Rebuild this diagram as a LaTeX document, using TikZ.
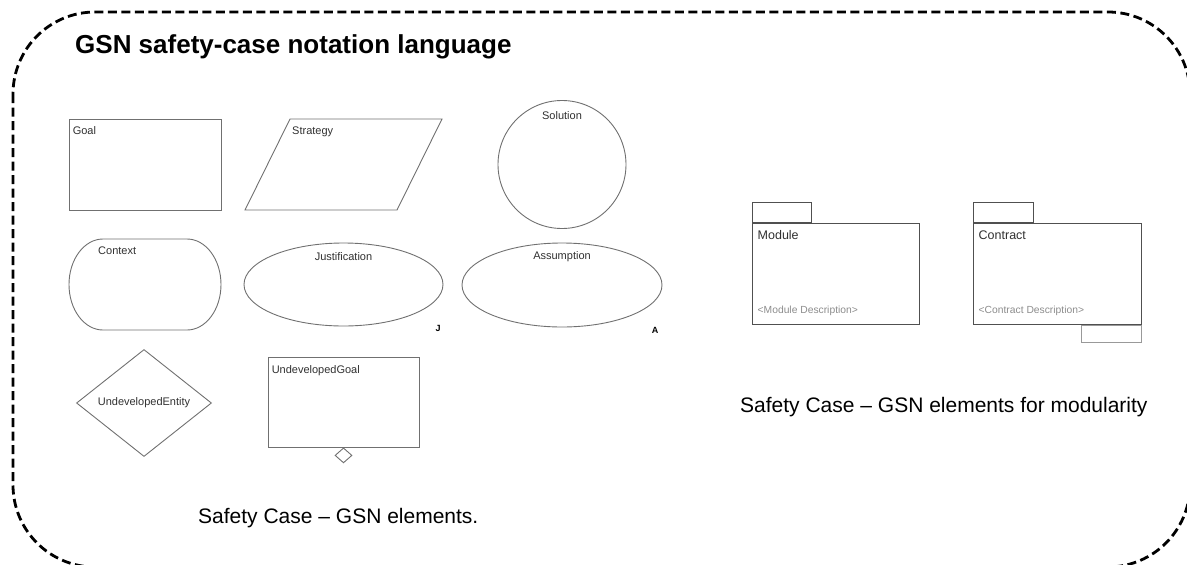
\documentclass[tikz,border=0pt]{standalone}
\usepackage{fontspec}
\setmainfont{Liberation Sans}
\usetikzlibrary{shapes.geometric,positioning}
\definecolor{edgegray}{HTML}{707070}
\definecolor{pkggray}{HTML}{505050}
\definecolor{labelgray}{HTML}{303030}
\definecolor{descgray}{HTML}{8C8C8C}

\begin{document}
\begin{tikzpicture}[x=1pt,y=-1pt,inner sep=0pt,
		font=\fontsize{11}{13}\selectfont]
	\tikzstyle{every node}=[text=labelgray]
	\tikzstyle{elem}=[draw=edgegray,line width=0.9pt]
	\tikzstyle{pkg}=[draw=pkggray,line width=1pt]
	\tikzstyle{cornerlabel}=[anchor=north west]
	\tikzstyle{toplabel}=[anchor=north]
	\tikzstyle{marker}=[font=\fontsize{9}{11}\selectfont\bfseries,text=black,anchor=base]
	\tikzstyle{desc}=[anchor=base west,text=descgray,font=\fontsize{10.3}{12}\selectfont]
	\tikzstyle{caption}=[anchor=base west,text=black,font=\fontsize{21}{25}\selectfont]
	\useasboundingbox (0,0) rectangle (1187,565);
	\draw[line width=2.8pt,dash pattern=on 9pt off 4.5pt,rounded corners=82pt]
		(13,12) rectangle (1190,567);
	\node[anchor=base west,text=black,font=\fontsize{26}{31}\selectfont\bfseries]
		(title) at (75,53) {GSN safety-case notation language};
	% core elements
	\node[elem,minimum width=152,minimum height=91] (G) at (145,164.5) {};
	\node[cornerlabel] (Gt) at ([shift={(4,8)}]G.north west) {Goal};
	\coordinate (St) at (290,119);
	\draw[elem] (245,210) -- (St) -- (442,119) -- (397,210) -- cycle;
	\node[cornerlabel] (Stt) at ([shift={(2,8)}]St) {Strategy};
	\node[elem,circle,minimum size=128] (S) at (562,164.5) {};
	\node[toplabel] (Sn) at ([shift={(0,11)}]S.north) {Solution};
	\coordinate (C) at (69,239);
	\draw[elem] (103,239) -- (187,239)
		arc[start angle=-90,end angle=90,x radius=34,y radius=45.5]
		-- (103,330) arc[start angle=90,end angle=270,x radius=34,y radius=45.5];
	\node[cornerlabel] (Ct) at ([shift={(29,8)}]C) {Context};
	\node[elem,ellipse,minimum width=199,minimum height=83] (J) at (343.5,284.5) {};
	\node[toplabel] (Jt) at ([shift={(0,10)}]J.north) {Justification};
	\node[marker] (Jm) at (438,331) {J};
	\node[elem,ellipse,minimum width=200,minimum height=84] (A) at (562,285) {};
	\node[toplabel] (At) at ([shift={(0,9)}]A.north) {Assumption};
	\node[marker] (Am) at (655,333) {A};
	\node[elem,diamond,minimum width=135,minimum height=107] (E) at (144,403) {UndevelopedEntity};
	\node[elem,minimum width=151,minimum height=90] (U) at (343.5,402) {};
	\node[cornerlabel] (Ut) at ([shift={(4,9)}]U.north west) {UndevelopedGoal};
	\node[elem,diamond,minimum width=17,minimum height=15,below=0pt of U.south] (Ud) {};
	% modular elements
	\node[pkg,minimum width=167,minimum height=101] (M) at (835.5,273.5) {};
	\node[pkg,minimum width=59,minimum height=20,above right=0pt and 0pt of M.north west] (Mtab) {};
	\node[cornerlabel,font=\fontsize{12.5}{15}\selectfont] (Mt) at ([shift={(6,8)}]M.north west) {Module};
	\node[desc] (Md) at ([shift={(6,-11)}]M.south west) {<Module Description>};
	\node[pkg,minimum width=168,minimum height=101] (K) at (1057,273.5) {};
	\node[pkg,minimum width=60,minimum height=20,above right=0pt and 0pt of K.north west] (Ktab) {};
	\node[elem,draw=gray!80,minimum width=60,minimum height=17,below left=0pt and 0pt of K.south east] (Kfoot) {};
	\node[cornerlabel,font=\fontsize{12.5}{15}\selectfont] (Kt) at ([shift={(6,8)}]K.north west) {Contract};
	\node[desc] (Kd) at ([shift={(6,-11)}]K.south west) {<Contract Description>};
	% captions
	\node[caption] (cap1) at (198,523) {Safety Case -- GSN elements.};
	\node[caption] (cap2) at (740,412) {Safety Case -- GSN elements for modularity};
\end{tikzpicture}
\end{document}
